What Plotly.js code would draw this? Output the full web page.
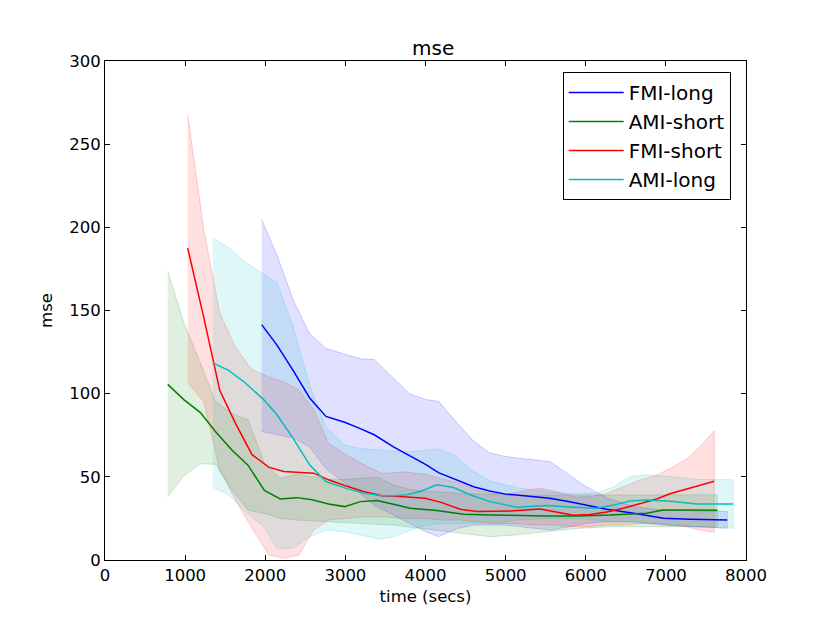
<!DOCTYPE html>
<html>
<head>
<meta charset="utf-8">
<script src="https://cdn.plot.ly/plotly-3.0.1.min.js"></script>
<style>
  body { margin: 0; background: #fff; }
  #chart { width: 830px; height: 623px; }
</style>
</head>
<body>
<div id="chart"></div>
<script>
// FMI-long
var fmiLongX = [1955, 2151, 2355, 2554, 2758, 2999, 3186, 3360, 3600, 3800, 4000, 4162, 4400, 4600, 4800, 5000, 5200, 5550, 5800, 6000, 6260, 6600, 6970, 7300, 7766];
var fmiLongMean = [141.5, 128.9, 113.4, 97.4, 86.3, 82.7, 79, 75.3, 68, 62.5, 57.5, 52.5, 47.7, 44, 41.5, 39.6, 38.8, 37.1, 35, 33.1, 30.5, 28.1, 25.1, 24.5, 24.1];
var fmiLongHi = [204.8, 182.7, 155.6, 136, 127.1, 123.5, 121, 120.5, 109, 100, 96.5, 95.4, 82, 71.5, 64.5, 62.2, 61, 59.2, 51, 44.2, 37.5, 32, 30, 29.5, 29.1];
var fmiLongLo = [77.3, 75.3, 73.3, 68, 55, 46, 40, 33, 27, 22, 17, 14, 19, 21, 21, 21, 20, 18, 20, 22, 23, 23, 21, 20, 19.1];

// AMI-short
var amiShortX = [783, 983, 1191, 1378, 1586, 1785, 1989, 2188, 2396, 2583, 2791, 2990, 3186, 3394, 3601, 3809, 4142, 4474, 4807, 5100, 5500, 5900, 6300, 6760, 6968, 7300, 7641];
var amiShortMean = [105.6, 96.4, 88.6, 77.3, 66, 57, 41.8, 36.7, 37.5, 36.2, 33.7, 32.1, 35.1, 35.7, 33.5, 31.1, 29.7, 27.5, 27.1, 26.8, 26.5, 26.5, 27, 28.1, 30.1, 30, 29.9];
var amiShortHi = [173.7, 142.6, 118.5, 95.4, 88, 84.3, 58.2, 49.2, 51.6, 50, 48.5, 48.5, 49.2, 49.8, 45.2, 42.2, 41, 40, 39.5, 39, 39, 39, 39, 39.2, 39.2, 39.2, 39.2];
var amiShortLo = [38.1, 50.6, 57.8, 57.6, 42, 30, 28, 25, 24, 23.5, 23, 22.5, 22, 21.5, 21, 20, 18, 16, 14, 15, 17, 19, 20, 20, 20, 20, 20];

// FMI-short
var fmiShortX = [1032, 1232, 1432, 1627, 1835, 2043, 2230, 2420, 2604, 2791, 2999, 3227, 3456, 3726, 3996, 4204, 4433, 4641, 4850, 5056, 5430, 5640, 5845, 6054, 6262, 6469, 6677, 6885, 7051, 7259, 7425, 7604];
var fmiShortMean = [187.5, 146, 102, 82.3, 63.3, 55.8, 53.2, 52.6, 52.2, 48.2, 44.6, 41.2, 38.6, 38.1, 37.1, 34.5, 30.5, 29.1, 29.2, 29.5, 30.7, 29, 26.9, 27.3, 28.9, 31.1, 34.1, 36.7, 39.8, 42.8, 44.8, 47.4];
var fmiShortHi = [268, 198.8, 148.6, 128, 114.5, 110, 107, 102.4, 90.4, 70, 63.5, 57.5, 52, 53, 51.5, 49, 46, 42, 40, 40, 43.2, 41, 38, 38, 40, 44, 48, 51, 55, 60.7, 68, 77.7];
var fmiShortLo = [106.4, 95.4, 54.2, 36.1, 19.1, 3, 1, 3, 18, 24, 25, 26, 26, 25, 25, 24, 24, 23, 22, 22, 21, 21, 20, 20, 21, 21, 22, 22, 21, 20, 18, 16.7];

// AMI-long
var amiLongX = [1344, 1544, 1752, 1980, 2147, 2346, 2554, 2758, 2999, 3200, 3435, 3600, 3768, 3934, 4142, 4349, 4557, 4807, 5140, 5514, 5845, 6137, 6350, 6552, 6760, 7093, 7384, 7841];
var amiLongMean = [118.5, 114, 106.4, 96.4, 87.3, 73.3, 57.2, 47.2, 43.2, 40.5, 38.8, 38.6, 39.2, 41.2, 45.2, 43.6, 39.2, 35.1, 31.7, 32.7, 31.7, 31.1, 33, 35.5, 36.1, 35.1, 33.7, 33.7];
var amiLongHi = [193.8, 187.8, 179, 172, 166.7, 140.5, 105, 80, 69, 67, 66, 65.3, 64.9, 65.5, 66.9, 63.5, 54.5, 47.5, 43.5, 41, 39.8, 40.2, 44, 50.2, 51.2, 50, 48.5, 48.2];
var amiLongLo = [43.8, 39.2, 29, 20, 7, 7, 14, 18, 17, 15, 12.5, 14, 17, 20, 22, 22, 22, 22, 24, 25, 25, 24, 23, 23, 22, 21, 20, 19.1];

var series = [
    {name: 'FMI-long', x: fmiLongX, y: fmiLongMean, lo: fmiLongLo, hi: fmiLongHi, rgb: '0,0,255'},
    {name: 'AMI-short', x: amiShortX, y: amiShortMean, lo: amiShortLo, hi: amiShortHi, rgb: '0,128,0'},
    {name: 'FMI-short', x: fmiShortX, y: fmiShortMean, lo: fmiShortLo, hi: fmiShortHi, rgb: '255,0,0'},
    {name: 'AMI-long', x: amiLongX, y: amiLongMean, lo: amiLongLo, hi: amiLongHi, rgb: '0,191,191'}
];

function create_band(s) {
    return {
        x: s.x.concat(s.x.slice().reverse()),
        y: s.hi.concat(s.lo.slice().reverse()),
        mode: 'lines',
        type: 'scatter',
        fill: 'toself',
        fillcolor: 'rgba(' + s.rgb + ',0.12)',
        line: {color: 'rgba(' + s.rgb + ',0.18)', width: 1},
        showlegend: false,
        hoverinfo: 'skip'
    };
}

function create_line(s) {
    return {
        x: s.x,
        y: s.y,
        mode: 'lines',
        type: 'scatter',
        name: s.name,
        line: {color: 'rgb(' + s.rgb + ')', width: 1.5}
    };
}

// bands under all lines, like matplotlib's fill_between
var data = series.map(create_band).concat(series.map(create_line));

var axis_font = {family: 'DejaVu Sans', size: 16.5, color: '#000'};

var layout = {
    width: 830,
    height: 623,
    margin: {l: 104.5, r: 84, t: 61, b: 63},
    paper_bgcolor: '#fff',
    plot_bgcolor: '#fff',
    font: axis_font,
    title: {
        text: 'mse',
        font: {family: 'DejaVu Sans', size: 20, color: '#000'},
        x: 0.512, xref: 'paper', xanchor: 'center',
        y: 1 - 48 / 623, yanchor: 'middle'
    },
    xaxis: {
        title: {text: 'time (secs)', font: axis_font, standoff: 6},
        range: [0, 8000],
        dtick: 1000,
        tick0: 0,
        ticks: 'inside',
        ticklen: 5,
        tickcolor: '#000',
        showline: true,
        linecolor: '#000',
        linewidth: 1,
        mirror: 'ticks',
        showgrid: false,
        zeroline: false,
        tickfont: axis_font
    },
    yaxis: {
        title: {text: 'mse', font: axis_font, standoff: 12},
        range: [0, 300],
        dtick: 50,
        tick0: 0,
        ticks: 'inside',
        ticklen: 5,
        tickcolor: '#000',
        showline: true,
        linecolor: '#000',
        linewidth: 1,
        mirror: 'ticks',
        showgrid: false,
        zeroline: false,
        tickfont: axis_font
    },
    legend: {
        x: 0.714, y: 0.978,
        xanchor: 'left', yanchor: 'top',
        bgcolor: '#fff',
        bordercolor: '#000',
        borderwidth: 1,
        itemwidth: 55,
        font: {family: 'DejaVu Sans', size: 20, color: '#000'}
    }
};

Plotly.newPlot(document.getElementById('chart'), data, layout, {staticPlot: true});
</script>
</body>
</html>
